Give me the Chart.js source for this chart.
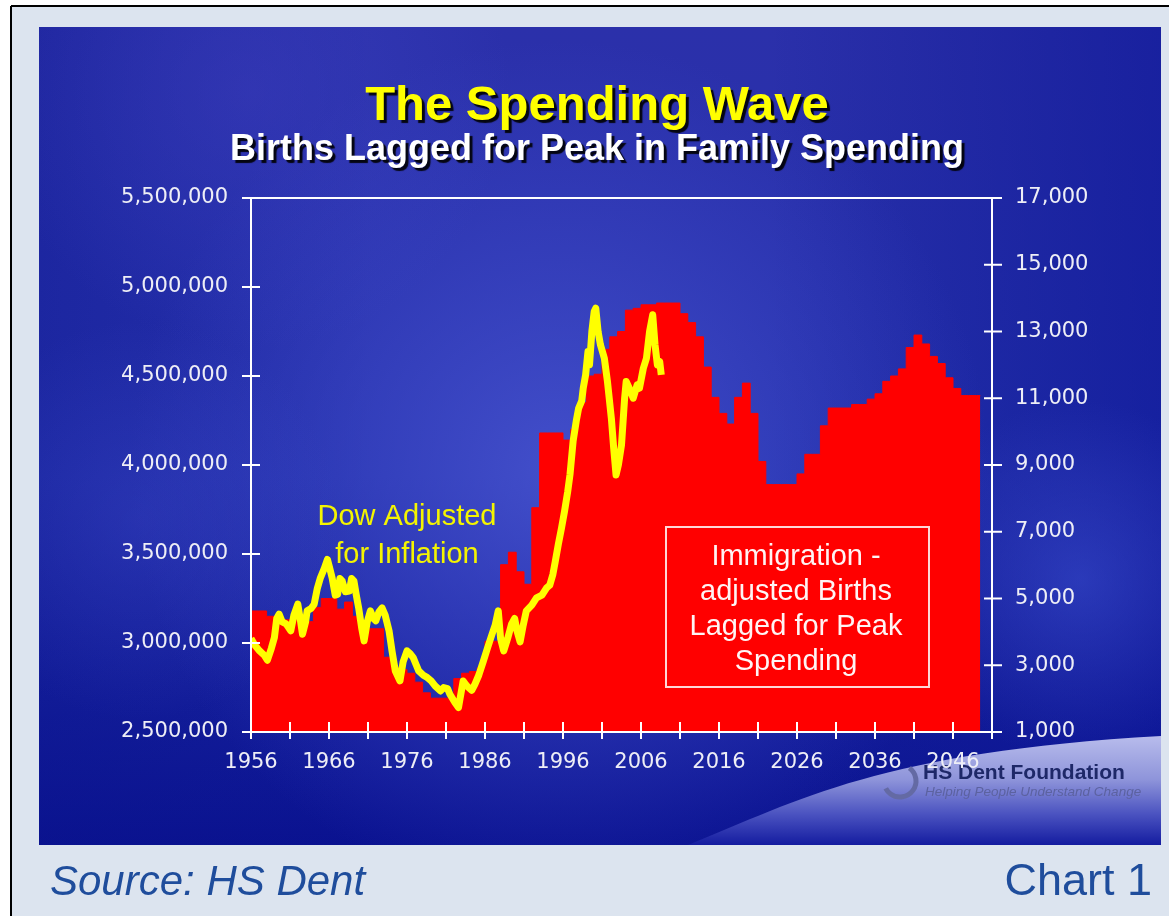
<!DOCTYPE html>
<html>
<head>
<meta charset="utf-8">
<script src="https://cdn.jsdelivr.net/npm/chart.js@4.4.1/dist/chart.umd.min.js"></script>
<style>
  html, body { margin: 0; padding: 0; background: #ffffff; }
  #wrap { width: 1169px; height: 916px; }
</style>
</head>
<body>
<div id="wrap"><canvas id="chart" width="1169" height="916"></canvas></div>
<script>
// Immigration-adjusted births, lagged for peak spending (one value per year from 1956)
const birthStartYear = 1956;
const births = [
  3180000, 3180000, 3150000, 3120000, 3130000, 3130000, 3120000, 3120000, 3200000, 3250000, // 1956-65
  3250000, 3190000, 3230000, 3150000, 3080000, 3080000, 3080000, 2920000, 2860000, 2850000, // 1966-75
  2830000, 2780000, 2720000, 2690000, 2690000, 2690000, 2800000, 2830000, 2840000, 2860000, // 1976-85
  3010000, 3010000, 3440000, 3510000, 3400000, 3330000, 3760000, 4180000, 4180000, 4180000, // 1986-95
  4140000, 4200000, 4350000, 4500000, 4510000, 4650000, 4720000, 4750000, 4870000, 4880000, // 1996-2005
  4900000, 4900000, 4910000, 4910000, 4910000, 4850000, 4800000, 4720000, 4550000, 4380000, // 2006-15
  4290000, 4230000, 4380000, 4460000, 4290000, 4020000, 3890000, 3890000, 3890000, 3890000, // 2016-25
  3950000, 4060000, 4060000, 4220000, 4320000, 4320000, 4320000, 4340000, 4340000, 4370000, // 2026-35
  4400000, 4470000, 4500000, 4540000, 4660000, 4730000, 4680000, 4610000, 4570000, 4490000, // 2036-45
  4430000, 4390000, 4390000, 4390000                                                          // 2046-49
];
const birthEndYear = 2049.5;

// Dow adjusted for inflation (right axis)
const dowYears = [
  1956.0, 1956.5, 1957.1, 1957.7, 1958.1, 1958.6, 1959.0, 1959.3, 1959.6, 1960.0,
  1960.5, 1961.1, 1961.5, 1962.0, 1962.3, 1962.6, 1963.0, 1963.2, 1963.7, 1964.1,
  1964.5, 1964.9, 1965.4, 1965.8, 1966.1, 1966.4, 1966.8, 1967.1, 1967.4, 1967.7,
  1968.1, 1968.6, 1968.9, 1969.2, 1969.5, 1969.8, 1970.2, 1970.5, 1970.9, 1971.3,
  1971.7, 1972.0, 1972.4, 1972.8, 1973.2, 1973.7, 1974.1, 1974.5, 1975.1, 1975.5,
  1976.0, 1976.4, 1976.8, 1977.2, 1977.5, 1978.1, 1978.6, 1979.1, 1979.6, 1980.3,
  1980.7, 1981.2, 1981.5, 1982.1, 1982.6, 1983.2, 1983.6, 1983.9, 1984.3, 1984.7,
  1985.2, 1985.8, 1986.3, 1986.9, 1987.3, 1987.7, 1988.0, 1988.4, 1988.9, 1989.4,
  1989.8, 1990.1, 1990.5, 1990.9, 1991.3, 1992.0, 1992.6, 1993.3, 1993.9, 1994.3,
  1994.7, 1995.0, 1995.4, 1995.8, 1996.2, 1996.6, 1996.9, 1997.3, 1997.7, 1998.0,
  1998.4, 1998.6, 1998.9, 1999.2, 1999.4, 1999.7, 2000.0, 2000.2, 2000.5, 2000.8,
  2001.3, 2001.7, 2002.2, 2002.5, 2002.8, 2003.1, 2003.5, 2003.9, 2004.1, 2004.5,
  2005.0, 2005.5, 2005.8, 2006.3, 2006.7, 2007.1, 2007.5, 2007.8, 2008.1, 2008.4,
  2008.6
];
const dowValues = [
  3800, 3600, 3430, 3300, 3150, 3500, 3830, 4400, 4530, 4300,
  4240, 4030, 4500, 4830, 4400, 3930, 4300, 4630, 4700, 4830,
  5300, 5620, 5900, 6170, 5900, 5620, 5100, 5120, 5600, 5520,
  5200, 5220, 5600, 5520, 5100, 4720, 4100, 3730, 4300, 4630,
  4400, 4330, 4600, 4720, 4500, 4030, 3400, 2830, 2530, 3100,
  3430, 3350, 3230, 3000, 2830, 2700, 2630, 2530, 2380, 2230,
  2330, 2300, 2130, 1900, 1730, 2530, 2400, 2330, 2250, 2430,
  2700, 3130, 3500, 3930, 4200, 4630, 3800, 3430, 3800, 4230,
  4400, 4030, 3700, 4200, 4630, 4800, 5020, 5100, 5320, 5400,
  5720, 6100, 6620, 7100, 7620, 8200, 8720, 9720, 10320, 10700,
  10920, 11310, 11700, 12400, 12000, 13000, 13600, 13700, 13000, 12600,
  12200, 11500, 10400, 9500, 8700, 9000, 9600, 11000, 11500, 11300,
  11000, 11400, 11300, 11900, 12200, 13000, 13500, 12600, 12000, 12100,
  11700
];

// axis ticks
const xTickYears = [1956, 1961, 1966, 1971, 1976, 1981, 1986, 1991, 1996, 2001,
                    2006, 2011, 2016, 2021, 2026, 2031, 2036, 2041, 2046, 2051];
const xLabelYears = [1956, 1966, 1976, 1986, 1996, 2006, 2016, 2026, 2036, 2046];
const leftTicks = [2500000, 3000000, 3500000, 4000000, 4500000, 5000000, 5500000];
const rightTicks = [1000, 3000, 5000, 7000, 9000, 11000, 13000, 15000, 17000];

const W = 1169, H = 916;
const plot = { left: 251, right: 992, top: 198, bottom: 732 };
const panel = { x: 39, y: 27, w: 1122, h: 818 };

const birthPoints = births.map((v, i) => ({ x: birthStartYear + i, y: v }));
birthPoints.push({ x: birthEndYear, y: births[births.length - 1] });
const dowPoints = dowYears.map((x, i) => ({ x: x, y: dowValues[i] }));

const tickFont = { family: 'DejaVu Sans', size: 21 };
const tickColor = '#eeeef6';

function line(ctx, x1, y1, x2, y2) {
  ctx.beginPath();
  ctx.moveTo(x1, y1);
  ctx.lineTo(x2, y2);
  ctx.stroke();
}

const backdrop = {
  id: 'backdrop',
  beforeDraw(chart) {
    const ctx = chart.ctx;
    ctx.save();
    ctx.fillStyle = '#ffffff';
    ctx.fillRect(0, 0, W, H);
    ctx.fillStyle = '#dce4ef';
    ctx.fillRect(11, 6, W - 11, H - 6);
    ctx.strokeStyle = '#000000';
    ctx.lineWidth = 2;
    line(ctx, 11, 6, W, 6);
    line(ctx, 11, 6, 11, H);

    // blue panel
    ctx.save();
    ctx.beginPath();
    ctx.rect(panel.x, panel.y, panel.w, panel.h);
    ctx.clip();
    let g = ctx.createLinearGradient(0, panel.y, 0, panel.y + panel.h);
    g.addColorStop(0, '#2b30aa');
    g.addColorStop(0.55, '#2330ac');
    g.addColorStop(1, '#0a1290');
    ctx.fillStyle = g;
    ctx.fillRect(panel.x, panel.y, panel.w, panel.h);

    let side = ctx.createLinearGradient(panel.x, 0, panel.x + panel.w, 0);
    side.addColorStop(0, 'rgba(10,20,140,0.35)');
    side.addColorStop(0.3, 'rgba(10,20,140,0)');
    side.addColorStop(0.65, 'rgba(10,20,140,0)');
    side.addColorStop(1, 'rgba(10,20,150,0.55)');
    ctx.fillStyle = side;
    ctx.fillRect(panel.x, panel.y, panel.w, panel.h);

    const glow = (cx, cy, r, col) => {
      const rg = ctx.createRadialGradient(cx, cy, 0, cx, cy, r);
      rg.addColorStop(0, col);
      rg.addColorStop(1, 'rgba(70,80,210,0)');
      ctx.fillStyle = rg;
      ctx.fillRect(panel.x, panel.y, panel.w, panel.h);
    };
    glow(560, 470, 430, 'rgba(80,92,215,0.7)');
    glow(250, 90, 260, 'rgba(70,70,200,0.35)');
    glow(1080, 580, 180, 'rgba(70,90,220,0.45)');
    glow(140, 520, 200, 'rgba(70,80,210,0.3)');

    // swoosh lower right
    ctx.beginPath();
    ctx.moveTo(688, 845);
    ctx.bezierCurveTo(800, 800, 880, 752, 1161, 736);
    ctx.lineTo(1161, 845);
    ctx.closePath();
    let sg = ctx.createLinearGradient(0, 736, 0, 845);
    sg.addColorStop(0, '#b8bcec');
    sg.addColorStop(0.4, '#8e94da');
    sg.addColorStop(0.72, '#4a52c0');
    sg.addColorStop(1, '#141ca0');
    ctx.fillStyle = sg;
    ctx.fill();

    // logo
    ctx.strokeStyle = '#646aa4';
    ctx.lineWidth = 5;
    ctx.beginPath();
    ctx.arc(900, 781, 16, -0.3 * Math.PI, 0.85 * Math.PI);
    ctx.stroke();
    ctx.fillStyle = '#1e2868';
    ctx.font = 'bold 21px "Liberation Sans"';
    ctx.textAlign = 'left';
    ctx.textBaseline = 'alphabetic';
    ctx.fillText('HS Dent Foundation', 923, 779);
    ctx.fillStyle = '#5c62a0';
    ctx.font = 'italic 13.5px "Liberation Sans"';
    ctx.fillText('Helping People Understand Change', 925, 796);
    ctx.restore();

    // titles
    ctx.textAlign = 'center';
    ctx.shadowColor = 'rgba(0,0,0,0.9)';
    ctx.shadowOffsetX = 3;
    ctx.shadowOffsetY = 3;
    ctx.shadowBlur = 1;
    ctx.fillStyle = '#ffff00';
    ctx.font = 'bold 49px "Liberation Sans"';
    ctx.fillText('The Spending Wave', 597, 120);
    ctx.fillStyle = '#ffffff';
    ctx.font = 'bold 36px "Liberation Sans"';
    ctx.fillText('Births Lagged for Peak in Family Spending', 597, 160);
    ctx.shadowColor = 'rgba(0,0,0,0)';

    // footer
    ctx.fillStyle = '#1f4d9c';
    ctx.textAlign = 'left';
    ctx.font = 'italic 42px "Liberation Sans"';
    ctx.fillText('Source: HS Dent', 50, 895);
    ctx.textAlign = 'right';
    ctx.font = '45px "Liberation Sans"';
    ctx.fillText('Chart 1', 1152, 895);
    ctx.restore();
  }
};

const overlay = {
  id: 'overlay',
  afterDatasetsDraw(chart) {
    const ctx = chart.ctx;
    const a = chart.chartArea;
    const { x, y, y1 } = chart.scales;
    ctx.save();
    ctx.strokeStyle = '#ffffff';
    ctx.lineWidth = 2;
    line(ctx, a.left, a.top, a.right, a.top);
    line(ctx, a.left, a.top, a.left, a.bottom);
    line(ctx, a.right, a.top, a.right, a.bottom);
    line(ctx, a.left - 9, a.bottom, a.right + 9, a.bottom);
    y.ticks.forEach(t => {
      const p = y.getPixelForValue(t.value);
      line(ctx, a.left - 9, p, a.left + 9, p);
    });
    y1.ticks.forEach(t => {
      const p = y1.getPixelForValue(t.value);
      line(ctx, a.right - 8, p, a.right + 10, p);
    });
    x.ticks.forEach(t => {
      const p = x.getPixelForValue(t.value);
      line(ctx, p, a.bottom - 10, p, a.bottom + 7);
    });

    // annotations
    ctx.textAlign = 'center';
    ctx.textBaseline = 'alphabetic';
    ctx.font = '29px "Liberation Sans"';
    ctx.fillStyle = '#f4f400';
    ctx.fillText('Dow Adjusted', 407, 525);
    ctx.fillText('for Inflation', 407, 563);

    ctx.strokeStyle = 'rgba(255,225,225,0.95)';
    ctx.lineWidth = 2;
    ctx.strokeRect(666, 527, 263, 160);
    ctx.fillStyle = '#fff4f4';
    ctx.fillText('Immigration -', 796, 565);
    ctx.fillText('adjusted Births', 796, 600);
    ctx.fillText('Lagged for Peak', 796, 635);
    ctx.fillText('Spending', 796, 670);
    ctx.restore();
  }
};

new Chart(document.getElementById('chart').getContext('2d'), {
  type: 'line',
  data: {
    datasets: [
      {
        label: 'Dow Adjusted for Inflation',
        data: dowPoints,
        yAxisID: 'y1',
        borderColor: '#ffff00',
        borderWidth: 7,
        borderJoinStyle: 'round',
        pointRadius: 0,
        tension: 0,
        fill: false,
        order: 0
      },
      {
        label: 'Immigration-adjusted Births Lagged for Peak Spending',
        data: birthPoints,
        yAxisID: 'y',
        stepped: true,
        fill: 'start',
        backgroundColor: '#ff0000',
        borderColor: '#ff0000',
        borderWidth: 1,
        pointRadius: 0,
        order: 1
      }
    ]
  },
  options: {
    responsive: false,
    animation: false,
    devicePixelRatio: 1,
    layout: { padding: { top: plot.top, left: 0, right: 0, bottom: 0 } },
    plugins: {
      legend: { display: false },
      tooltip: { enabled: false },
      title: { display: false }
    },
    scales: {
      x: {
        type: 'linear',
        min: 1956,
        max: 2051,
        afterFit: s => { s.height = H - plot.bottom; },
        afterBuildTicks: s => { s.ticks = xTickYears.map(v => ({ value: v })); },
        grid: { display: false, drawTicks: false },
        border: { display: false },
        ticks: {
          color: tickColor,
          font: tickFont,
          padding: 18,
          autoSkip: false,
          maxRotation: 0,
          callback: v => xLabelYears.includes(v) ? String(v) : ''
        }
      },
      y: {
        position: 'left',
        min: 2500000,
        max: 5500000,
        afterFit: s => { s.width = plot.left; },
        afterBuildTicks: s => { s.ticks = leftTicks.map(v => ({ value: v })); },
        grid: { display: false, drawTicks: false },
        border: { display: false },
        ticks: {
          color: tickColor,
          font: tickFont,
          padding: 23,
          callback: v => v.toLocaleString('en-US')
        }
      },
      y1: {
        position: 'right',
        min: 1000,
        max: 17000,
        afterFit: s => { s.width = W - plot.right; },
        afterBuildTicks: s => { s.ticks = rightTicks.map(v => ({ value: v })); },
        grid: { display: false, drawTicks: false },
        border: { display: false },
        ticks: {
          color: tickColor,
          font: tickFont,
          padding: 23,
          callback: v => v.toLocaleString('en-US')
        }
      }
    }
  },
  plugins: [backdrop, overlay]
});
</script>
</body>
</html>
